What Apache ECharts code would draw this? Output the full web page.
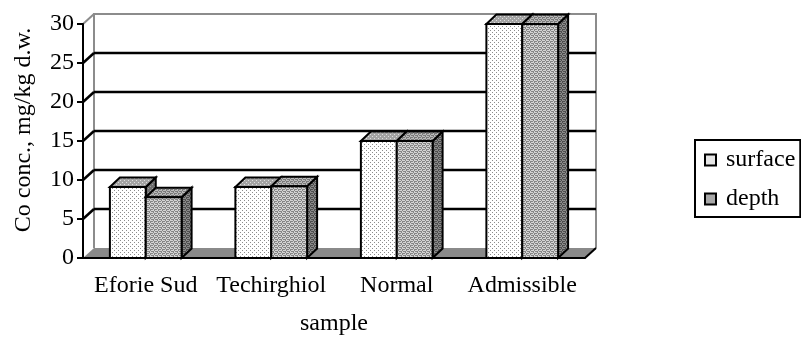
<!DOCTYPE html>
<html>
<head>
<meta charset="utf-8">
<script src="https://cdn.jsdelivr.net/npm/echarts@6/dist/echarts.min.js"></script>
<style>
  html, body { margin: 0; padding: 0; background: #fff; }
  #chart { width: 801px; height: 339px; }
</style>
</head>
<body>
<div id="chart"></div>
<script>
// Co concentration per sampling site, surface vs depth layer
const categories = ['Eforie Sud', 'Techirghiol', 'Normal', 'Admissible'];
const surfaceValues = [9.1, 9.1, 15, 30];
const depthValues = [7.8, 9.2, 15, 30];
const yTicks = [0, 5, 10, 15, 20, 25, 30];

const FONT = '"Liberation Serif", "DejaVu Serif", serif';
const FS = 24;
const DX = 11, DY = -10;      // depth offset of the back wall
const BDX = 10, BDY = -9.5;   // depth offset of each column

// Small repeating dot/texture tiles used as fills
function tile(rows, palette) {
  const c = document.createElement('canvas');
  c.width = rows[0].length; c.height = rows.length;
  const ctx = c.getContext('2d');
  rows.forEach((row, j) => [...row].forEach((ch, i) => {
    ctx.fillStyle = palette[ch];
    ctx.fillRect(i, j, 1, 1);
  }));
  return { image: c, repeat: 'repeat' };
}
const dots = ['1000', '0000', '0010', '0000'];
const grain = ['1011', '0100', '1101', '0010'];
const fills = {
  surface: {
    front: tile(dots, { 0: '#ffffff', 1: '#8c8c8c' }),
    top: tile(dots, { 0: '#a4a4a4', 1: '#e0e0e0' }),
    side: tile(dots, { 0: '#6e6e6e', 1: '#a0a0a0' })
  },
  depth: {
    front: tile(grain, { 0: '#868686', 1: '#d4d4d4' }),
    top: tile(grain, { 0: '#7a7a7a', 1: '#bababa' }),
    side: tile(grain, { 0: '#4e4e4e', 1: '#8a8a8a' })
  }
};

// Back wall, its frame and the floor
function renderWall(params, api) {
  const cs = params.coordSys;
  const x0 = cs.x, x1 = cs.x + cs.width, yT = cs.y, yB = cs.y + cs.height;
  return {
    type: 'group',
    children: [
      { type: 'polygon', shape: { points: [[x0 + DX, yT + DY], [x1 + DX, yT + DY], [x1 + DX, yB + DY], [x0 + DX, yB + DY]] },
        style: { fill: '#ffffff' } },
      { type: 'polyline', shape: { points: [[x0 + DX, yB + DY], [x0 + DX, yT + DY], [x1 + DX, yT + DY], [x1 + DX, yB + DY]] },
        style: { fill: null, stroke: '#8c8c8c', lineWidth: 2 } },
      { type: 'line', shape: { x1: x0, y1: yT, x2: x0 + DX, y2: yT + DY },
        style: { stroke: '#8c8c8c', lineWidth: 2 } },
      { type: 'polygon', shape: { points: [[x0, yB], [x1, yB], [x1 + DX, yB + DY], [x0 + DX, yB + DY]] },
        style: { fill: '#8a8a8a' } },
      { type: 'line', shape: { x1: x1, y1: yB, x2: x1 + DX, y2: yB + DY },
        style: { stroke: '#000', lineWidth: 2 } }
    ]
  };
}

// Gridlines on the back wall with their links to the front axis
function renderGrid(params, api) {
  const cs = params.coordSys;
  const x0 = cs.x, x1 = cs.x + cs.width;
  const y = api.coord([0, api.value(1)])[1];
  const st = { stroke: '#000', lineWidth: 2.5 };
  return {
    type: 'group',
    children: [
      { type: 'line', shape: { x1: x0, y1: y, x2: x0 + DX, y2: y + DY }, style: st },
      { type: 'line', shape: { x1: x0 + DX, y1: y + DY, x2: x1 + DX, y2: y + DY }, style: st }
    ]
  };
}

// Column as three faces: front, top and right side
function makeColumn(which, slot) {
  return function (params, api) {
    const cat = api.value(0);
    const top = api.coord([cat, api.value(1)]);
    const base = api.coord([cat, 0]);
    const band = api.size([1, 0])[0];
    const bw = band / 3.5;
    const xL = top[0] + (slot - 1) * bw;
    const xR = xL + bw;
    const yT = top[1], yB = base[1];
    const f = fills[which];
    const edge = { stroke: '#000', lineWidth: 2, lineJoin: 'miter' };
    return {
      type: 'group',
      children: [
        { type: 'polygon', shape: { points: [[xR, yT], [xR + BDX, yT + BDY], [xR + BDX, yB + BDY], [xR, yB]] },
          style: Object.assign({ fill: f.side }, edge) },
        { type: 'polygon', shape: { points: [[xL, yT], [xL + BDX, yT + BDY], [xR + BDX, yT + BDY], [xR, yT]] },
          style: Object.assign({ fill: f.top }, edge) },
        { type: 'rect', shape: { x: xL, y: yT, width: bw, height: yB - yT },
          style: Object.assign({ fill: f.front }, edge) }
      ]
    };
  };
}

const chart = echarts.init(document.getElementById('chart'), null, { renderer: 'canvas' });
chart.setOption({
  animation: false,
  backgroundColor: '#fff',
  grid: { left: 83, right: 216, top: 24, bottom: 81, containLabel: false, outerBoundsMode: 'none' },
  legend: {
    orient: 'vertical',
    left: 695, top: 140,
    padding: [8, 5, 6, 9],
    borderColor: '#000', borderWidth: 2,
    itemWidth: 11, itemHeight: 11, itemGap: 15,
    icon: 'rect',
    textStyle: { fontFamily: FONT, fontSize: FS, lineHeight: 24, color: '#000', padding: [0, 0, 0, 5] },
    data: [
      { name: 'surface', itemStyle: { color: '#e6e6e6', borderColor: '#000', borderWidth: 2 } },
      { name: 'depth', itemStyle: { color: '#a8a8a8', borderColor: '#000', borderWidth: 2 } }
    ]
  },
  xAxis: {
    type: 'category',
    data: categories,
    z: 10,
    name: 'sample',
    nameLocation: 'middle',
    nameGap: 54,
    nameTextStyle: { fontFamily: FONT, fontSize: FS, color: '#000' },
    axisLine: { lineStyle: { color: '#000', width: 2 } },
    axisTick: { length: 6, lineStyle: { color: '#000', width: 2 } },
    axisLabel: { interval: 0, hideOverlap: false, fontFamily: FONT, fontSize: FS, color: '#000', margin: 16 },
    splitLine: { show: false }
  },
  yAxis: {
    type: 'value',
    min: 0, max: 30, interval: 5,
    z: 10,
    name: 'Co conc., mg/kg d.w.',
    nameLocation: 'middle',
    nameGap: 47,
    nameTextStyle: { fontFamily: FONT, fontSize: FS, color: '#000', padding: [0, 0, 0, 22] },
    axisLine: { show: true, lineStyle: { color: '#000', width: 2 } },
    axisTick: { show: true, length: 6, lineStyle: { color: '#000', width: 2 } },
    axisLabel: { fontFamily: FONT, fontSize: FS, color: '#000', margin: 9 },
    splitLine: { show: false }
  },
  series: [
    { type: 'custom', name: 'wall', silent: true, data: [[0, 0]], renderItem: renderWall },
    { type: 'custom', name: 'grid', silent: true,
      data: yTicks.filter(v => v > 0 && v < 30).map(v => [0, v]), renderItem: renderGrid },
    { type: 'custom', name: 'surface', itemStyle: { color: '#e6e6e6' },
      data: surfaceValues.map((v, i) => [i, v]), renderItem: makeColumn('surface', 0) },
    { type: 'custom', name: 'depth', itemStyle: { color: '#a8a8a8' },
      data: depthValues.map((v, i) => [i, v]), renderItem: makeColumn('depth', 1) }
  ]
});
</script>
</body>
</html>
